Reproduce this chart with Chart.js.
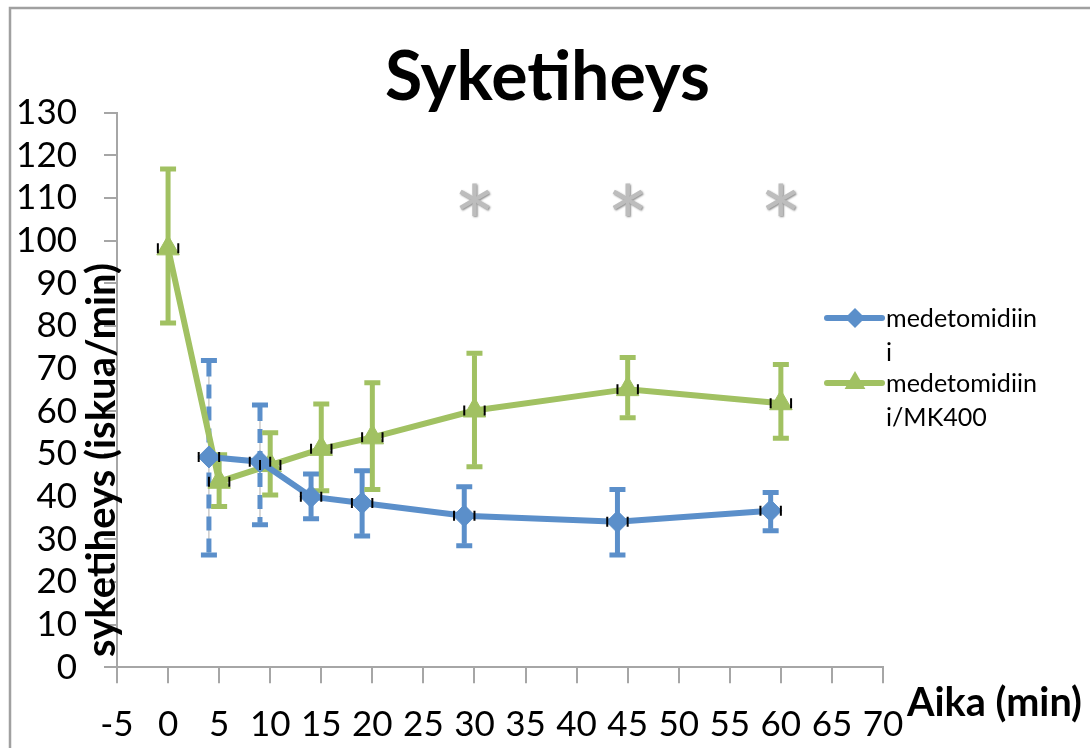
<!DOCTYPE html>
<html>
<head>
<meta charset="utf-8">
<title>Syketiheys</title>
<script src="https://cdn.jsdelivr.net/npm/chart.js@4.4.1/dist/chart.umd.min.js"></script>
<style>
  html, body { margin: 0; padding: 0; background: #fff; }
  #wrap { width: 1090px; height: 748px; position: relative; }
</style>
</head>
<body>
<div id="wrap"><canvas id="chart"></canvas></div>
<script>
"use strict";

/* ─── Data ──────────────────────────────────────────────────── */

/* medetomidiini (blue) */
const BLUE_X = [4, 9, 14, 19, 29, 44, 59];
const BLUE_Y = [49.3, 48.2, 40.0, 38.5, 35.5, 34.1, 36.7];
const BLUE_HI = [71.9, 61.5, 45.3, 46.1, 42.3, 41.7, 41.0];
const BLUE_LO = [26.3, 33.4, 34.8, 30.8, 28.5, 26.3, 32.0];

/* medetomidiini/MK400 (green) */
const GREEN_X = [0, 5, 10, 15, 20, 30, 45, 60];
const GREEN_Y = [98.2, 43.5, 47.4, 51.2, 53.9, 60.2, 65.2, 61.9];
const GREEN_HI = [116.8, 49.8, 55.0, 61.7, 66.7, 73.6, 72.6, 71.0];
const GREEN_LO = [80.7, 37.7, 40.4, 41.4, 41.7, 47.0, 58.5, 53.7];

/* horizontal (time) error, minutes */
const X_ERR = 1;

/* significance marks */
const SIG_X = [30, 45, 60];
const SIG_Y = 109.6;

/* axis ranges */
const X_MIN = -5, X_MAX = 70, X_STEP = 5;
const Y_MIN = 0, Y_MAX = 130, Y_STEP = 10;

const SERIES_LABELS = [["medetomidiin", "i"], ["medetomidiin", "i/MK400"]];

/* ─── Styles ────────────────────────────────────────────────── */

const BLUE = "#5b8fca";
const GREEN = "#a1c162";
const AXIS_GREY = "#a6a6a6";
const FONT = "Lato, 'Open Sans', sans-serif";

/* blue bars drawn dashed (by point index) */
const DASHED_BLUE = [0, 1];

/* ─── Helpers ───────────────────────────────────────────────── */

function toPoints(xs, ys) {
  return xs.map(function (x, i) { return { x: x, y: ys[i] }; });
}

/* sets a font whose text width matches targetW, returns the size */
function fitFont(ctx, text, weight, targetW) {
  ctx.font = weight + " 100px " + FONT;
  const w = ctx.measureText(text).width;
  const size = 100 * targetW / w;
  ctx.font = weight + " " + size + "px " + FONT;
  return size;
}

function drawYErrors(chart, xs, hi, lo, color, dashed) {
  const ctx = chart.ctx;
  const sx = chart.scales.x, sy = chart.scales.y;
  ctx.save();
  xs.forEach(function (x, i) {
    const px = sx.getPixelForValue(x);
    const pt = sy.getPixelForValue(hi[i]);
    const pb = sy.getPixelForValue(lo[i]);
    /* thin centre line */
    ctx.setLineDash([]);
    ctx.lineWidth = 1;
    ctx.strokeStyle = "#b0b0b0";
    ctx.beginPath();
    ctx.moveTo(px, pt); ctx.lineTo(px, pb);
    ctx.stroke();
    /* thick bar */
    ctx.strokeStyle = color;
    ctx.lineWidth = 5;
    ctx.setLineDash(dashed.indexOf(i) >= 0 ? [14, 8] : []);
    ctx.beginPath();
    ctx.moveTo(px, pt + 2); ctx.lineTo(px, pb - 2);
    ctx.stroke();
    /* caps */
    ctx.setLineDash([]);
    ctx.beginPath();
    ctx.moveTo(px - 8, pt); ctx.lineTo(px + 8, pt);
    ctx.moveTo(px - 8, pb); ctx.lineTo(px + 8, pb);
    ctx.stroke();
  });
  ctx.restore();
}

function drawXErrors(chart, xs, ys) {
  const ctx = chart.ctx;
  const sx = chart.scales.x, sy = chart.scales.y;
  ctx.save();
  ctx.strokeStyle = "#000";
  ctx.lineWidth = 2;
  xs.forEach(function (x, i) {
    const py = sy.getPixelForValue(ys[i]);
    const pl = sx.getPixelForValue(x - X_ERR);
    const pr = sx.getPixelForValue(x + X_ERR);
    ctx.beginPath();
    ctx.moveTo(pl, py - 5); ctx.lineTo(pl, py + 5);
    ctx.moveTo(pr, py - 5); ctx.lineTo(pr, py + 5);
    ctx.stroke();
  });
  ctx.restore();
}

/* ─── Overlay plugin: error bars, marks, titles, legend ────── */

const overlay = {
  id: "overlay",
  beforeDatasetsDraw: function (chart) {
    drawYErrors(chart, BLUE_X, BLUE_HI, BLUE_LO, BLUE, DASHED_BLUE);
    drawYErrors(chart, GREEN_X, GREEN_HI, GREEN_LO, GREEN, []);
  },
  afterDatasetsDraw: function (chart) {
    const ctx = chart.ctx;
    const sx = chart.scales.x, sy = chart.scales.y;
    drawXErrors(chart, BLUE_X, BLUE_Y);
    drawXErrors(chart, GREEN_X, GREEN_Y);

    /* asterisks */
    ctx.save();
    ctx.font = "normal 100px " + FONT;
    ctx.textAlign = "center";
    ctx.textBaseline = "alphabetic";
    const m = ctx.measureText("*");
    const mid = (m.actualBoundingBoxAscent - m.actualBoundingBoxDescent) / 2;
    ctx.fillStyle = "#bdbdbd";
    ctx.shadowColor = "rgba(0,0,0,0.45)";
    ctx.shadowBlur = 2;
    ctx.shadowOffsetX = 1;
    ctx.shadowOffsetY = 1;
    SIG_X.forEach(function (x) {
      ctx.fillText("*", sx.getPixelForValue(x), sy.getPixelForValue(SIG_Y) + mid);
    });
    ctx.restore();
  },
  afterDraw: function (chart) {
    const ctx = chart.ctx;
    ctx.save();

    /* outer frame */
    ctx.strokeStyle = "#a0a0a0";
    ctx.lineWidth = 2.5;
    ctx.beginPath();
    ctx.moveTo(10, 748); ctx.lineTo(10, 8); ctx.lineTo(1090, 8);
    ctx.stroke();

    ctx.fillStyle = "#000";
    ctx.textAlign = "left";
    ctx.textBaseline = "alphabetic";

    /* main title */
    fitFont(ctx, "Syketiheys", "bold", 325);
    ctx.fillText("Syketiheys", 385, 100);

    /* x axis title */
    fitFont(ctx, "Aika (min)", "bold", 175);
    ctx.fillText("Aika (min)", 907, 716);

    /* y axis title */
    ctx.save();
    ctx.translate(115, 460);
    ctx.rotate(-Math.PI / 2);
    ctx.textAlign = "center";
    fitFont(ctx, "syketiheys (iskua/min)", "bold", 394);
    ctx.fillText("syketiheys (iskua/min)", 0, 0);
    ctx.restore();

    /* legend */
    const colors = [BLUE, GREEN];
    const styles = ["rectRot", "triangle"];
    const radii = [10, 12];
    const rowY = [318, 383];
    fitFont(ctx, "medetomidiin", "normal", 151);
    SERIES_LABELS.forEach(function (lines, k) {
      const y = rowY[k];
      ctx.strokeStyle = colors[k];
      ctx.lineWidth = 6;
      ctx.lineCap = "round";
      ctx.beginPath();
      ctx.moveTo(827, y); ctx.lineTo(882, y);
      ctx.stroke();
      ctx.fillStyle = colors[k];
      Chart.helpers.drawPoint(ctx, {
        pointStyle: styles[k], radius: radii[k], borderWidth: 0, rotation: 0
      }, 855, y);
      ctx.fillStyle = "#000";
      lines.forEach(function (t, j) {
        ctx.fillText(t, 886, y + 9 + j * 33.5);
      });
    });

    ctx.restore();
  }
};

/* ─── Chart ─────────────────────────────────────────────────── */

new Chart(document.getElementById("chart"), {
  type: "line",
  data: {
    datasets: [
      {
        label: "medetomidiini",
        data: toPoints(BLUE_X, BLUE_Y),
        borderColor: BLUE,
        backgroundColor: BLUE,
        borderWidth: 6,
        fill: false,
        tension: 0,
        pointStyle: "rectRot",
        pointRadius: 11,
        pointBackgroundColor: BLUE,
        pointBorderColor: BLUE,
        pointBorderWidth: 1,
      },
      {
        label: "medetomidiini/MK400",
        data: toPoints(GREEN_X, GREEN_Y),
        borderColor: GREEN,
        backgroundColor: GREEN,
        borderWidth: 6,
        fill: false,
        tension: 0,
        pointStyle: "triangle",
        pointRadius: 13,
        pointBackgroundColor: GREEN,
        pointBorderColor: GREEN,
        pointBorderWidth: 1,
      },
    ],
  },
  options: {
    responsive: true,
    maintainAspectRatio: false,
    animation: false,
    events: [],
    layout: { padding: { left: 0, top: 112.7, right: 207, bottom: 0 } },
    plugins: {
      legend: { display: false },
      title: { display: false },
      tooltip: { enabled: false },
    },
    scales: {
      x: {
        type: "linear",
        min: X_MIN,
        max: X_MAX,
        afterFit: function (scale) { scale.height = 80.7; },
        ticks: {
          stepSize: X_STEP,
          autoSkip: false,
          maxRotation: 0,
          padding: 20,
          color: "#000",
          font: { family: FONT, size: 35 },
        },
        grid: { drawOnChartArea: false, tickLength: 16, color: AXIS_GREY, lineWidth: 2 },
        border: { color: AXIS_GREY, width: 2 },
      },
      y: {
        type: "linear",
        min: Y_MIN,
        max: Y_MAX,
        afterFit: function (scale) { scale.width = 117; },
        ticks: {
          stepSize: Y_STEP,
          autoSkip: false,
          padding: 27,
          color: "#000",
          font: { family: FONT, size: 35 },
        },
        grid: { drawOnChartArea: false, tickLength: 13, color: AXIS_GREY, lineWidth: 2 },
        border: { color: AXIS_GREY, width: 2 },
      },
    },
  },
  plugins: [overlay],
});
</script>
</body>
</html>
